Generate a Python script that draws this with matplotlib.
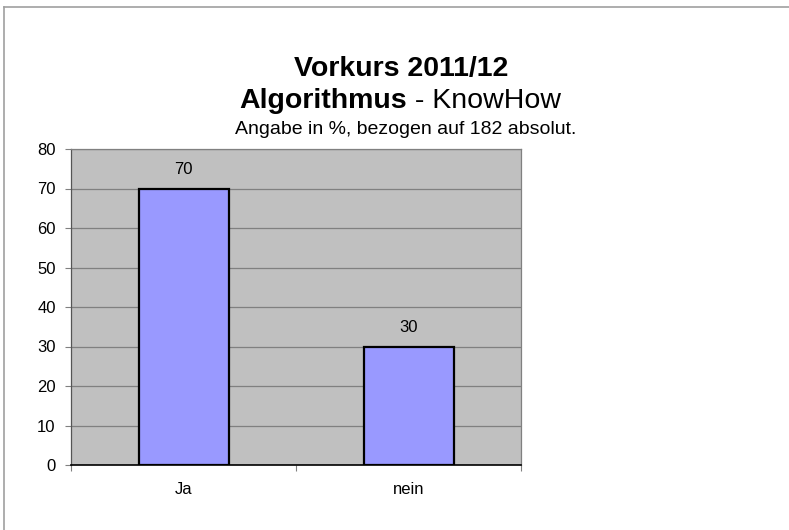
import matplotlib
matplotlib.use("Agg")
import matplotlib.pyplot as plt
from matplotlib.lines import Line2D

plt.rcParams["font.family"] = ["Liberation Sans", "DejaVu Sans"]

# Daten
kategorien = ["Ja", "nein"]
werte = [70, 30]
y_ticks = [0, 10, 20, 30, 40, 50, 60, 70, 80]

fig = plt.figure(figsize=(7.89, 5.30), dpi=100)
ax = fig.add_axes([71 / 789, 65 / 530, 450 / 789, 316 / 530])

ax.set_facecolor("#C0C0C0")
ax.set_axisbelow(True)
ax.yaxis.grid(True, color="#808080", linewidth=0.9)

x = list(range(len(kategorien)))
balken = ax.bar(x, werte, width=0.4, color="#9999FF", edgecolor="black", linewidth=1.6)

for xi, w in zip(x, werte):
    ax.annotate(str(w), (xi, w), xytext=(0, 8), textcoords="offset points",
                ha="center", va="bottom", fontsize=12)

ax.set_xlim(-0.5, len(kategorien) - 0.5)
ax.set_ylim(0, 80)
ax.set_yticks(y_ticks)
ax.set_xticks(x)
ax.set_xticklabels(kategorien)
ax.set_xticks([-0.5, 0.5, 1.5], minor=True)
ax.tick_params(axis="x", which="major", length=0, pad=12, labelsize=12)
ax.tick_params(axis="x", which="minor", length=4, color="#808080", width=0.8)
ax.tick_params(axis="y", length=4, color="#808080", width=0.8, pad=7, labelsize=12)

for s in ["top", "right"]:
    ax.spines[s].set_color("#808080")
    ax.spines[s].set_linewidth(0.9)
ax.spines["left"].set_color("#555555")
ax.spines["left"].set_linewidth(0.9)
ax.spines["bottom"].set_color("black")
ax.spines["bottom"].set_linewidth(1.2)

# Titel
fig.text(401 / 789, 1 - 76 / 530, "Vorkurs 2011/12", ha="center", va="baseline",
         fontsize=20.5, fontweight="bold")
t1 = fig.text(0, 1 - 108 / 530, "Algorithmus", ha="left", va="baseline",
              fontsize=20.5, fontweight="bold")
t2 = fig.text(0, 1 - 108 / 530, " - KnowHow", ha="left", va="baseline",
              fontsize=20.5)
fig.canvas.draw()
r = fig.canvas.get_renderer()
w1 = t1.get_window_extent(r).width
w2 = t2.get_window_extent(r).width
start = 400 - (w1 + w2) / 2
t1.set_x(start / 789)
t2.set_x((start + w1) / 789)

fig.text(406 / 789, 1 - 134 / 530, "Angabe in %, bezogen auf 182 absolut.",
         ha="center", va="baseline", fontsize=14)

# Rahmen
fig.add_artist(Line2D([4 / 789, 1], [1 - 7 / 530, 1 - 7 / 530], color="#A0A0A0", linewidth=1.2))
fig.add_artist(Line2D([4 / 789, 4 / 789], [0, 1 - 7 / 530], color="#A0A0A0", linewidth=1.2))

fig.savefig("out.png", dpi=100)
